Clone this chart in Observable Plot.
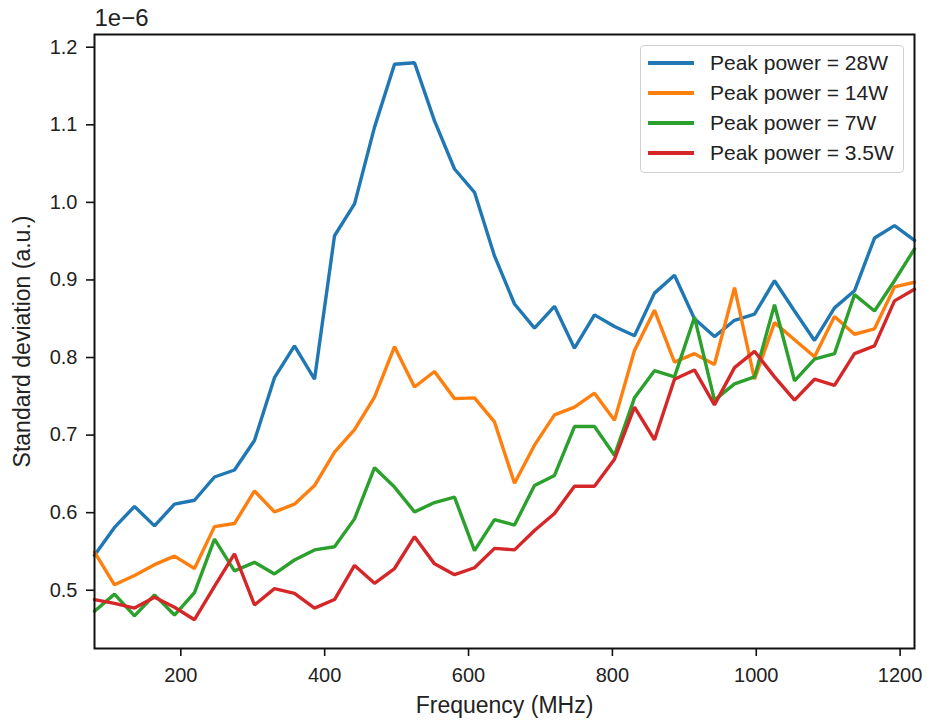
<!DOCTYPE html>
<html>
<head>
<meta charset="utf-8">
<script src="https://cdn.jsdelivr.net/npm/d3@7"></script>
<script src="https://cdn.jsdelivr.net/npm/@observablehq/plot@0.6"></script>
<style>
  body { margin: 0; background: #fff; font-family: "Liberation Sans", Arial, sans-serif; }
  #wrap { position: relative; width: 927px; height: 725px; }
  #legend { position: absolute; left: 640px; top: 45px; width: 262px; height: 126px;
            border: 1px solid #d0d0d0; border-radius: 4px; background: rgba(255,255,255,0.85);
            font-size: 21px; color: #222; }
  .row { position: absolute; left: 0; height: 30px; display: flex; align-items: center; }
  .sw { width: 46px; height: 3.5px; margin-left: 7px; margin-right: 16px; }
</style>
</head>
<body>
<div id="wrap"></div>
<script>
// Frequency (MHz)
const freq = [80,107.8,135.6,163.4,191.2,219,246.8,274.6,302.4,330.2,358,385.9,413.7,441.5,469.3,497.1,524.9,552.7,580.5,608.3,636.1,663.9,691.7,719.5,747.3,775.1,802.9,830.7,858.5,886.3,914.1,941.9,969.8,997.6,1025.4,1053.2,1081,1108.8,1136.6,1164.4,1192.2,1220];
// Standard deviation (a.u.), units of 1e-6
const p28 = [0.545,0.581,0.608,0.583,0.611,0.616,0.646,0.655,0.693,0.774,0.815,0.772,0.957,0.998,1.097,1.178,1.180,1.105,1.043,1.013,0.931,0.869,0.838,0.866,0.812,0.855,0.840,0.828,0.883,0.906,0.850,0.827,0.848,0.856,0.899,0.860,0.822,0.864,0.886,0.954,0.970,0.951];
const p14 = [0.549,0.507,0.519,0.533,0.544,0.528,0.582,0.586,0.628,0.601,0.611,0.635,0.678,0.707,0.749,0.814,0.762,0.782,0.747,0.748,0.717,0.638,0.687,0.726,0.736,0.754,0.719,0.809,0.861,0.794,0.805,0.791,0.890,0.772,0.845,0.823,0.801,0.853,0.830,0.837,0.891,0.897];
const p7 = [0.473,0.495,0.467,0.494,0.468,0.497,0.566,0.525,0.536,0.521,0.539,0.552,0.556,0.592,0.658,0.633,0.601,0.613,0.620,0.551,0.591,0.584,0.635,0.648,0.711,0.711,0.674,0.748,0.783,0.775,0.852,0.745,0.766,0.775,0.868,0.770,0.798,0.805,0.881,0.860,0.899,0.940];
const p35 = [0.488,0.483,0.477,0.491,0.478,0.462,0.505,0.547,0.481,0.502,0.496,0.477,0.488,0.532,0.509,0.528,0.569,0.534,0.520,0.529,0.554,0.552,0.577,0.599,0.634,0.634,0.669,0.736,0.694,0.772,0.784,0.739,0.787,0.808,0.775,0.745,0.772,0.764,0.805,0.815,0.873,0.888];

const seriesNames = ["Peak power = 28W","Peak power = 14W","Peak power = 7W","Peak power = 3.5W"];
const seriesValues = [p28, p14, p7, p35];
const colors = ["#1f77b4","#ff7f0e","#2ca02c","#d62728"];
const xTicks = [200,400,600,800,1000,1200];
const yTicks = [0.5,0.6,0.7,0.8,0.9,1.0,1.1,1.2];

const rows = [];
seriesNames.forEach((name, i) => {
  seriesValues[i].forEach((v, j) => rows.push({series: name, f: freq[j], v}));
});

const chart = Plot.plot({
  width: 927,
  height: 725,
  marginLeft: 94,
  marginRight: 13,
  marginTop: 34,
  marginBottom: 77,
  style: { fontFamily: "Liberation Sans, Arial, sans-serif", fontSize: "20px", color: "#222", background: "white" },
  x: { domain: [80, 1220], ticks: xTicks, tickFormat: d3.format("d") },
  y: { domain: [0.4249, 1.2164], ticks: yTicks, tickFormat: d3.format(".1f") },
  color: { domain: seriesNames, range: colors },
  marks: [
    Plot.line(rows, { x: "f", y: "v", z: "series", stroke: "series", strokeWidth: 3.4, strokeLinejoin: "miter" }),
    Plot.frame({ stroke: "#111", strokeWidth: 2 }),
    Plot.axisX({ ticks: xTicks, tickFormat: d3.format("d"), tickSize: 8, tickPadding: 11, label: null, stroke: "#111", strokeWidth: 1.6 }),
    Plot.axisY({ ticks: yTicks, tickFormat: d3.format(".1f"), tickSize: 8, tickPadding: 9, label: null, stroke: "#111", strokeWidth: 1.6 }),
    Plot.text(["Frequency (MHz)"], { frameAnchor: "bottom", lineAnchor: "middle", dy: 57, fontSize: 23, fill: "#222" }),
    Plot.text(["Standard deviation (a.u.)"], { frameAnchor: "left", textAnchor: "middle", lineAnchor: "middle", dx: -72, rotate: -90, fontSize: 23, fill: "#222" }),
    Plot.text(["1e\u22126"], { frameAnchor: "top-left", textAnchor: "start", lineAnchor: "middle", dy: -16, dx: 0, fontSize: 24, fill: "#222" })
  ]
});

const wrap = document.getElementById("wrap");
wrap.appendChild(chart);

const legend = document.createElement("div");
legend.id = "legend";
seriesNames.forEach((name, i) => {
  const r = document.createElement("div");
  r.className = "row";
  r.style.top = (2 + i * 30) + "px";
  const sw = document.createElement("div");
  sw.className = "sw";
  sw.style.background = colors[i];
  const t = document.createElement("span");
  t.textContent = name;
  r.appendChild(sw); r.appendChild(t);
  legend.appendChild(r);
});
wrap.appendChild(legend);
</script>
</body>
</html>
